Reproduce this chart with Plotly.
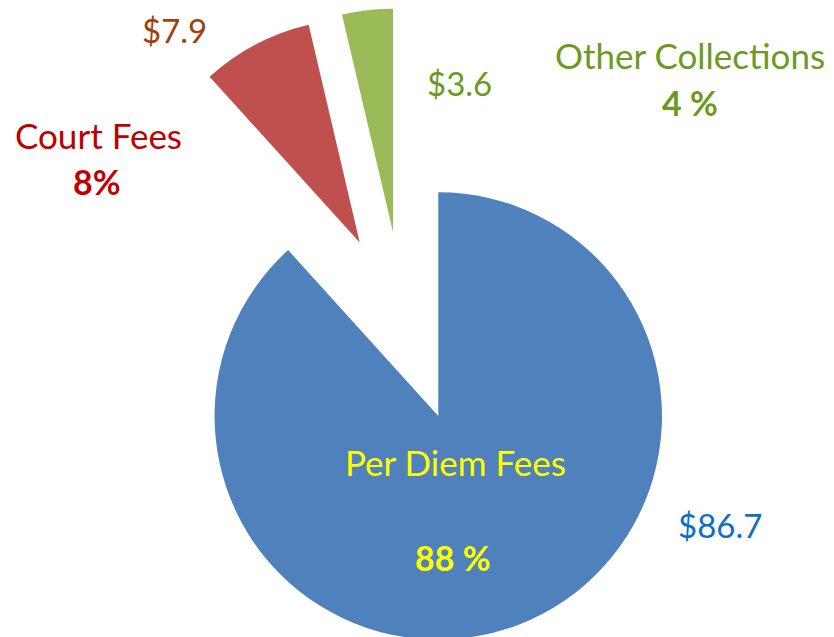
import plotly.graph_objects as go

# ---- data ----
categories = ["Per Diem Fees", "Court Fees", "Other Collections"]
values = [86.7, 7.9, 3.6]
pct_labels = ["88 %", "8%", "4 %"]
slice_colors = ["#4F81BD", "#C0504D", "#9BBB59"]
pulls = [0.426, 0.426, 0.426]

W, H = 834, 638
OFF = 8  # page body margin offset
FONT = "Lato"

cx_frac = (404 - OFF) / W
fig = go.Figure(go.Pie(
    labels=categories,
    values=values,
    sort=False,
    direction="clockwise",
    rotation=0,
    pull=pulls,
    marker=dict(colors=slice_colors, line=dict(width=0)),
    textinfo="none",
    hoverinfo="label+value+percent",
    domain=dict(x=[cx_frac - 0.4, cx_frac + 0.4], y=[0, 1]),
    showlegend=False,
))

def px(x, y):
    return (x - OFF) / W, 1 - (y - OFF) / H

# label positions (visual page pixels)
name_pos = [(455, 462), (98, 135), (690, 55)]
pct_pos = [(453, 557), (97, 181), (690, 103)]
val_pos = [(720, 525), (174, 30), (460, 83)]
name_colors = ["#FFFF00", "#C00000", "#6B9A1F"]
val_colors = ["#0F6FC6", "#A0410D", "#6B9A1F"]

anns = []
for i, cat in enumerate(categories):
    for (x, y), txt, col, sz in [
        (name_pos[i], cat, name_colors[i], 35),
        (pct_pos[i], f"<b>{pct_labels[i]}</b>", name_colors[i], 34),
        (val_pos[i], f"${values[i]}", val_colors[i], 33),
    ]:
        ax, ay = px(x, y)
        anns.append(dict(x=ax, y=ay, xref="paper", yref="paper", text=txt,
                         showarrow=False, xanchor="center", yanchor="middle",
                         font=dict(family=FONT, size=sz, color=col)))

fig.update_layout(
    width=W, height=H,
    margin=dict(l=0, r=0, t=0, b=0),
    paper_bgcolor="white", plot_bgcolor="white",
    annotations=anns,
)

fig.write_html("out.html")
